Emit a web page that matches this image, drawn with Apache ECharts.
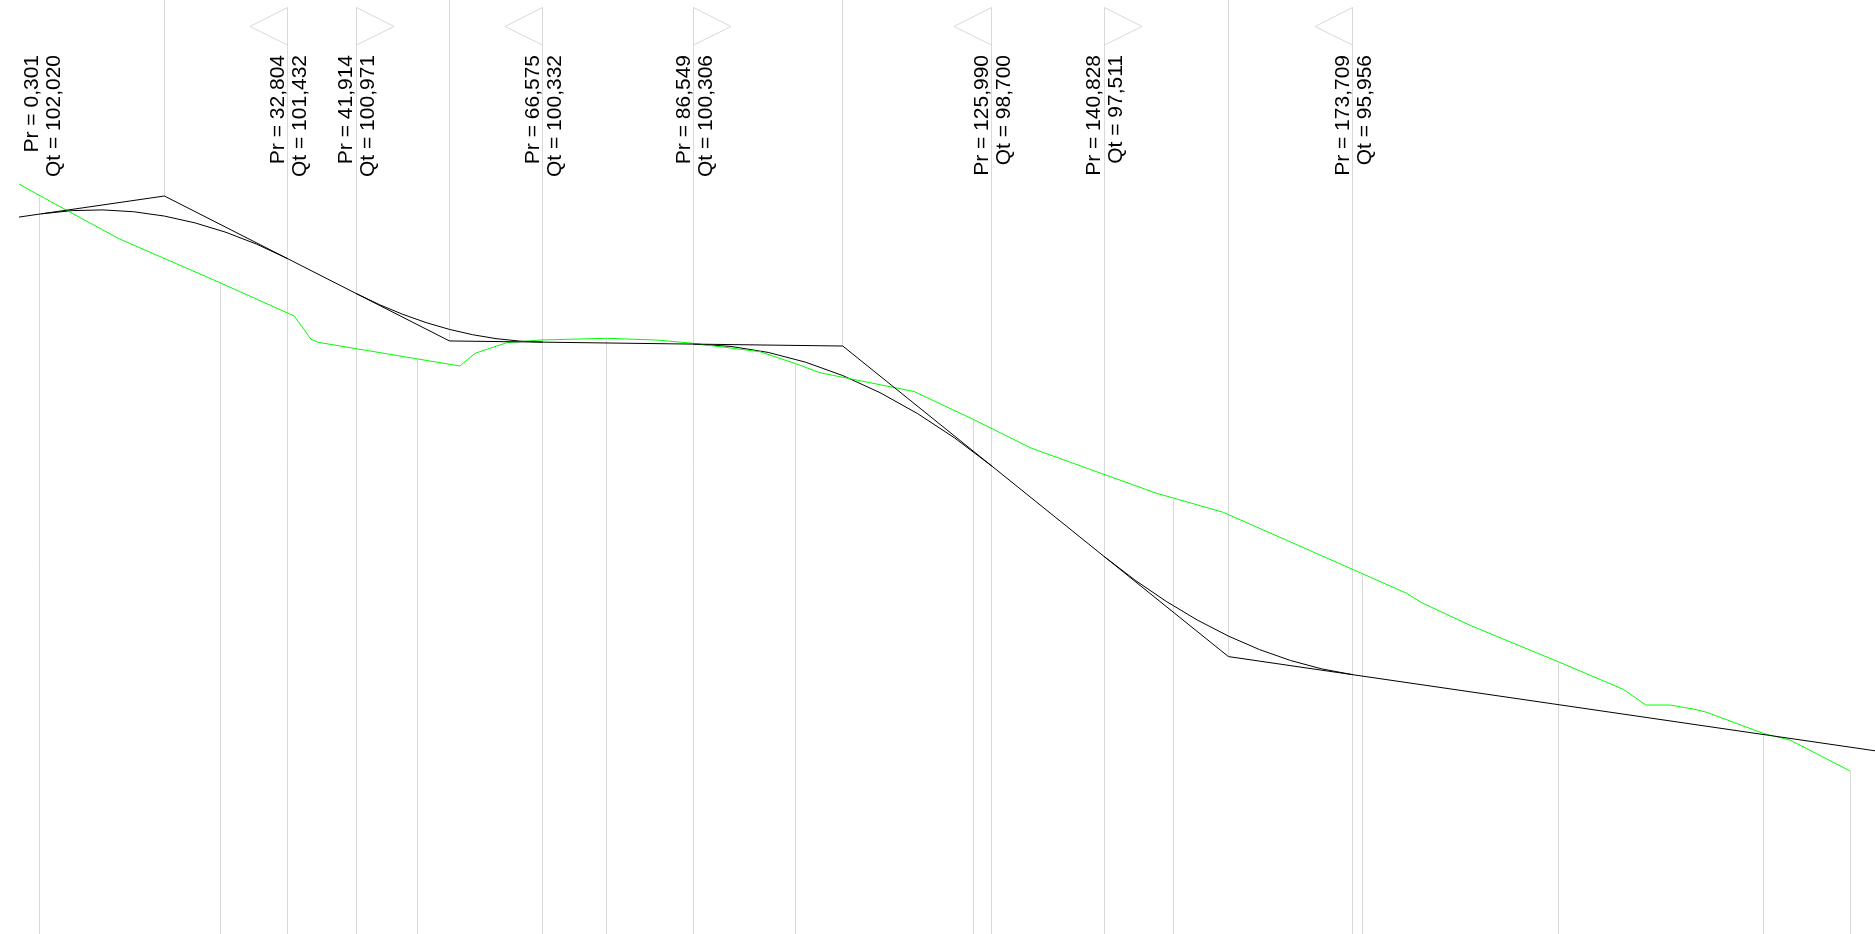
<!DOCTYPE html>
<html>
<head>
<meta charset="utf-8">
<title>Profil en long</title>
<script src="https://cdn.jsdelivr.net/npm/echarts@6.0.0/dist/echarts.min.js"></script>
<style>
  html, body { margin: 0; padding: 0; background: #fff; }
  #container { width: 1875px; height: 934px; }
</style>
</head>
<body>
<div id="container"></div>
<script>
// axis window (chainage in m, level in m)
var xMin = -5.19, xMax = 242.78;
var yMin = 92.544, yMax = 104.833;

// terrain (green)
var terrainPr = [-2.68, 0, 10.45, 24, 33.73, 35.94, 36.90, 50, 55.64, 57.63, 61.82, 66.22, 75, 81.66, 86.50, 95.32, 100,
  103.26, 105.90, 115.69, 123.5, 131.25, 147.78, 150, 156.59, 175, 180.85, 182.83, 189.45, 200.9, 209.49, 212.46,
  215.67, 218.75, 220.53, 228, 229.33, 231.54, 239.5];
var terrainQt = [102.412, 102.263, 101.697, 101.109, 100.675, 100.369, 100.329, 100.111, 100.017, 100.184, 100.324,
  100.359, 100.382, 100.359, 100.316, 100.205, 100.050, 99.929, 99.876, 99.682, 99.316, 98.934, 98.342, 98.280,
  98.092, 97.284, 97.026, 96.903, 96.596, 96.126, 95.763, 95.557, 95.557, 95.504, 95.461, 95.184, 95.149, 95.096, 94.688];

// cross-section stations
var stationPr = [0, 24, 50, 75, 100, 123.5, 150, 175, 200.9, 228, 239.5];
var stationQt = [102.263, 101.109, 100.111, 100.382, 100.050, 99.316, 98.280, 97.284, 96.126, 95.184, 94.688];

// grade line vertices (PVI)
var pviPr = [-2.68, 16.553, 54.245, 106.270, 157.269, 244];
var pviQt = [101.977, 102.254, 100.347, 100.280, 96.194, 94.937];

// vertical curve tangent points (labelled)
var markPr = [0.301, 32.804, 41.914, 66.575, 86.549, 125.990, 140.828, 173.709];
var markQt = [102.020, 101.432, 100.971, 100.332, 100.306, 98.700, 97.511, 95.956];
var markTri = ['', 'left', 'right', 'left', 'right', 'left', 'right', 'left'];

var gray = '#d9d9d9';

function fmt(v) {
  return v.toFixed(3).replace('.', ',');
}
function crisp(v) {
  return Math.round(v - 0.5) + 0.5;
}

var terrainData = terrainPr.map(function (p, i) { return [p, terrainQt[i]]; });
var gradeData = pviPr.map(function (p, i) { return [p, pviQt[i]]; });
var stationData = stationPr.map(function (p, i) { return [p, stationQt[i]]; });
var pviLineData = gradeData.slice(1, gradeData.length - 1);
var markData = markPr.map(function (p, i) { return [p, markQt[i]]; });
var curveData = [];
for (var c = 0; c < markPr.length / 2; c++) {
  curveData.push([markPr[2 * c], markQt[2 * c], pviPr[c + 1], pviQt[c + 1], markPr[2 * c + 1], markQt[2 * c + 1]]);
}

var dom = document.getElementById('container');
var myChart = echarts.init(dom);

var option = {
  backgroundColor: '#fff',
  animation: false,
  grid: { left: 0, right: 0, top: 0, bottom: 0 },
  xAxis: { type: 'value', min: xMin, max: xMax, show: false },
  yAxis: { type: 'value', min: yMin, max: yMax, show: false },
  series: [
    {
      // station lines, from terrain down
      type: 'custom',
      data: stationData,
      renderItem: function (params, api) {
        var a = api.coord([api.value(0), api.value(1)]);
        var b = api.coord([api.value(0), yMin]);
        var x = crisp(a[0]);
        return {
          type: 'line',
          shape: { x1: x, y1: a[1], x2: x, y2: b[1] },
          style: { stroke: gray, lineWidth: 1 }
        };
      }
    },
    {
      // PVI lines, from top down to the vertex
      type: 'custom',
      data: pviLineData,
      renderItem: function (params, api) {
        var a = api.coord([api.value(0), yMax]);
        var b = api.coord([api.value(0), api.value(1)]);
        var x = crisp(a[0]);
        return {
          type: 'line',
          shape: { x1: x, y1: a[1], x2: x, y2: b[1] },
          style: { stroke: gray, lineWidth: 1 }
        };
      }
    },
    {
      // tangent points: triangle, line and label
      type: 'custom',
      data: markData,
      renderItem: function (params, api) {
        var pr = api.value(0), qt = api.value(1);
        var top = api.coord([pr, yMax]);
        var bot = api.coord([pr, yMin]);
        var x = crisp(top[0]);
        var t0 = top[1] + 7.5;
        var tri = markTri[params.dataIndex];
        var children = [];
        if (tri) {
          var dx = tri === 'left' ? -37.5 : 37.5;
          children.push({
            type: 'line',
            shape: { x1: x, y1: t0, x2: x, y2: bot[1] },
            style: { stroke: gray, lineWidth: 1 }
          });
          children.push({
            type: 'polygon',
            shape: { points: [[x, t0], [x + dx, t0 + 19], [x, t0 + 37.5]] },
            style: { stroke: gray, fill: 'none', lineWidth: 1 }
          });
        }
        children.push({
          type: 'text',
          x: top[0] + 1.5,
          y: top[1] + 55,
          rotation: Math.PI / 2,
          style: {
            text: 'Pr = ' + fmt(pr) + '\nQt = ' + fmt(qt),
            font: '21px "Liberation Sans", Arial, sans-serif',
            fill: '#000',
            align: 'right',
            verticalAlign: 'middle',
            lineHeight: 22
          }
        });
        return { type: 'group', children: children };
      }
    },
    {
      name: 'TN',
      type: 'line',
      data: terrainData,
      showSymbol: false,
      symbol: 'none',
      lineStyle: { color: '#00ff00', width: 1 }
    },
    {
      name: 'Ligne rouge',
      type: 'line',
      data: gradeData,
      showSymbol: false,
      symbol: 'none',
      lineStyle: { color: '#000', width: 1 }
    },
    {
      // parabolic vertical curves, drawn as quadratic bezier with PVI as control point
      type: 'custom',
      data: curveData,
      renderItem: function (params, api) {
        var p1 = api.coord([api.value(0), api.value(1)]);
        var cp = api.coord([api.value(2), api.value(3)]);
        var p2 = api.coord([api.value(4), api.value(5)]);
        return {
          type: 'bezierCurve',
          shape: { x1: p1[0], y1: p1[1], cpx1: cp[0], cpy1: cp[1], x2: p2[0], y2: p2[1] },
          style: { stroke: '#000', fill: 'none', lineWidth: 1 }
        };
      }
    }
  ]
};
myChart.setOption(option);
</script>
</body>
</html>
